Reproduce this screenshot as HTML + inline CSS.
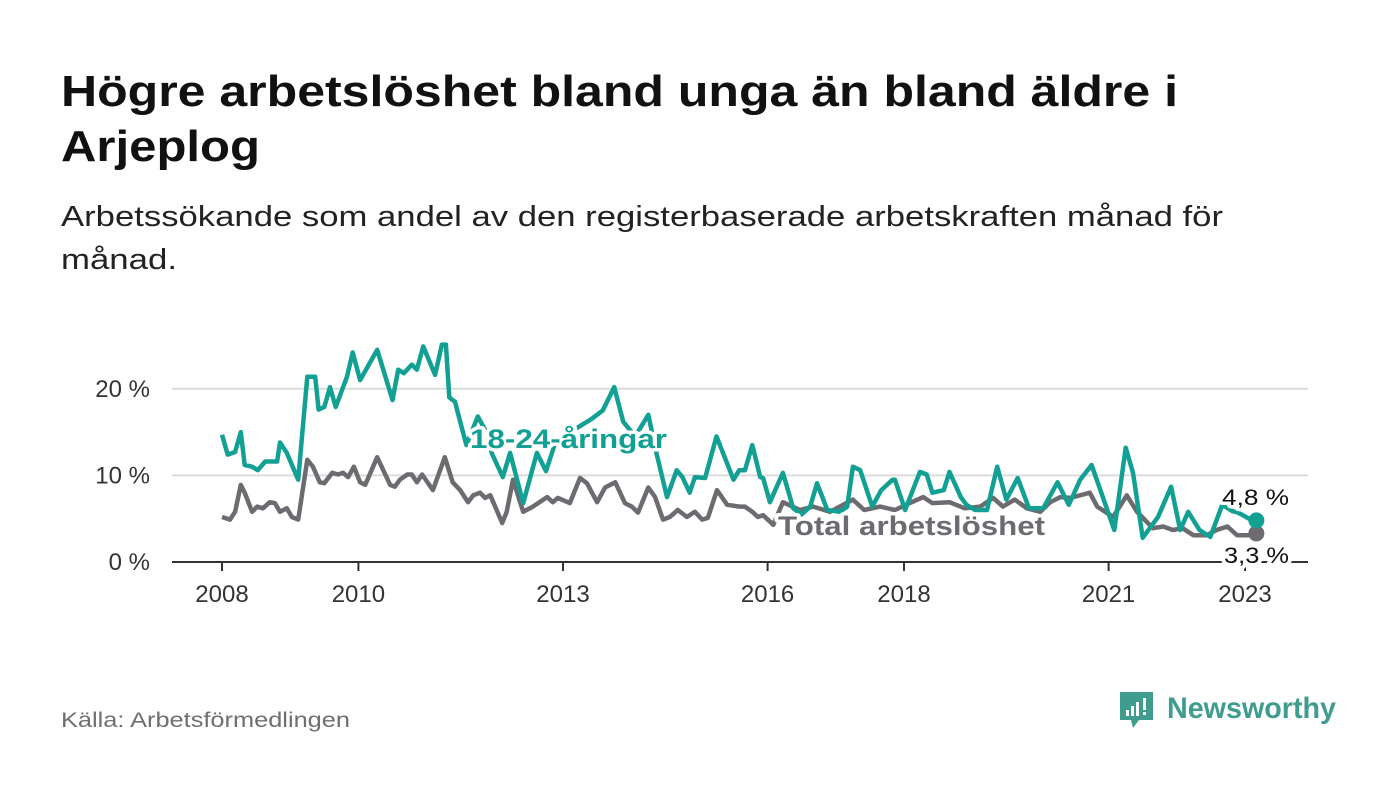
<!DOCTYPE html>
<html><head><meta charset="utf-8"><style>
html,body{margin:0;padding:0;background:#fff;}
svg{display:block;font-family:"Liberation Sans",sans-serif;}
</style></head><body>
<svg id="chart" width="1400" height="794" viewBox="0 0 1400 794" xmlns="http://www.w3.org/2000/svg">
<text x="61" y="106" font-size="44" font-weight="bold" fill="#111" textLength="1117" lengthAdjust="spacingAndGlyphs">Högre arbetslöshet bland unga än bland äldre i</text>
<text x="61" y="161" font-size="44" font-weight="bold" fill="#111" textLength="199" lengthAdjust="spacingAndGlyphs">Arjeplog</text>
<text x="61" y="226" font-size="29" fill="#222" textLength="1162" lengthAdjust="spacingAndGlyphs">Arbetssökande som andel av den registerbaserade arbetskraften månad för</text>
<text x="61" y="269" font-size="29" fill="#222" textLength="116" lengthAdjust="spacingAndGlyphs">månad.</text>
<g id="grid"></g>
<g id="axes"></g>
<g id="series"></g>
<g id="labels"></g>
<text x="61" y="727" font-size="21" fill="#6f6f6f" textLength="289" lengthAdjust="spacingAndGlyphs">Källa: Arbetsförmedlingen</text>
<g>
<path d="M1120 692 h33 v28 h-14 l-6 8 l-2 -8 h-11 z" fill="#3f9c8f"/>
<rect x="1126" y="710" width="3" height="6" fill="#fff"/><rect x="1131" y="706" width="3" height="10" fill="#fff"/><rect x="1136" y="702" width="3" height="14" fill="#fff"/><rect x="1143" y="698" width="3" height="12" fill="#fff"/><rect x="1143" y="712" width="3" height="3" fill="#fff"/>
<text x="1167" y="718" font-size="30" font-weight="bold" fill="#3f9c8f" textLength="169" lengthAdjust="spacingAndGlyphs">Newsworthy</text>
</g>
</svg>
<script>
const yTicks=[0,10,20];
const yTickLabels=["0 %","10 %","20 %"];
const xTickYears=[2008,2010,2013,2016,2018,2021,2023];
// months since Jan 2008
const youthMonths=[0,1,2.3,3.3,4,5.3,6.3,7.6,9.7,10.2,11.4,13.4,15,16.4,17,18,19,20,22,23,24.3,27.3,30,31,32,33.4,34.3,35.4,37.5,38.7,39.4,40,41,41.5,43,45,46.5,47.5,49.4,50.7,53,55.4,57,58.5,60.5,62.5,65,67,69,70.6,72.7,75,76.5,78.3,80,81,82.3,83.2,85,87,90,91,92,93.3,94.7,95.2,96.4,98.7,100.5,102,103.5,104.7,106.5,108.7,110,111,112.3,114.4,116,118,118.4,120.2,122.8,124,125,127,128,130,131,132.5,134.6,136.4,138,140,142,144.5,147,149,151,153,157,159,160.3,162,164.7,167,168.6,170,172,173.9,176,177.7,178.8,181,182];
const youthValues=[14.7,12.4,12.7,15.0,11.2,11.0,10.6,11.6,11.6,13.8,12.6,9.5,21.4,21.4,17.6,17.9,20.2,17.9,21.4,24.2,21.0,24.5,18.7,22.2,21.8,22.8,22.2,24.9,21.6,25.1,25.1,19.0,18.5,17.2,13.5,16.8,15.0,12.5,9.8,12.6,6.8,12.6,10.5,13.5,15.0,15.5,16.5,17.5,20.2,16.2,14.5,17.0,12.4,7.5,10.6,9.8,8.0,9.8,9.7,14.5,9.5,10.6,10.6,13.5,9.8,9.7,6.9,10.3,6.2,5.5,6.4,9.1,6.0,5.8,6.4,11.0,10.6,6.4,8.3,9.5,9.5,6.0,10.4,10.1,8.0,8.3,10.4,7.5,6.6,6.0,6.0,11.0,7.2,9.7,6.2,6.2,9.2,6.6,9.5,11.2,3.7,13.2,10.3,2.8,5.2,8.7,3.7,5.8,3.7,2.9,6.6,5.9,5.7,4.9,4.8];
const totalMonths=[0,1.4,2.3,3.3,4,5.3,6.2,7.2,8.4,9.3,10.2,11.4,12.3,13.4,15,16,17.2,18,19.4,20.4,21.3,22.2,23.2,24.3,25.2,27.3,29.6,30.4,31.3,32.6,33.4,34.3,35.2,37.1,39.2,40.6,41.9,43.3,44.2,45.4,46.3,47.2,49.3,50.1,51.2,53,54.7,57.2,58.2,59.1,61.2,63,64.2,66,67.4,69.2,70.9,72.1,73.2,75,76.2,77.6,78.8,80.2,81.8,83.2,84.5,85.5,87.1,88.9,91.1,92,93.3,94.3,95.2,97,98.7,101.7,104,107,111,113,115.8,118.4,121,123.4,125,128,130.7,133.4,135.7,137.4,139.5,141.6,144,145.7,147.5,149.2,151,152.7,154,156.8,159.2,161,163.8,165.6,167.3,169,170.9,173.3,175,176.9,178.6,181,182];
const totalValues=[5.2,4.9,5.8,8.9,8.0,5.8,6.4,6.2,6.9,6.8,5.8,6.2,5.2,4.9,11.8,11.0,9.2,9.1,10.3,10.1,10.3,9.8,11.0,9.2,8.9,12.1,8.9,8.7,9.5,10.1,10.1,9.2,10.1,8.3,12.1,9.2,8.3,6.9,7.7,8.0,7.4,7.7,4.5,5.8,9.5,5.8,6.4,7.5,6.9,7.4,6.8,9.7,9.1,6.9,8.6,9.2,6.8,6.4,5.7,8.6,7.5,4.9,5.2,6.0,5.2,5.8,4.9,5.1,8.3,6.6,6.4,6.4,5.8,5.2,5.4,4.3,6.9,6.0,6.4,5.8,7.2,6.0,6.4,6.0,6.8,7.5,6.8,6.9,6.2,6.4,7.4,6.4,7.2,6.2,5.8,6.9,7.5,7.4,7.7,8.0,6.4,5.2,7.7,5.8,3.9,4.1,3.7,3.9,3.1,3.1,3.7,4.1,3.1,3.1,3.3];
const NS="http://www.w3.org/2000/svg";
const X0=222,PXM=68.2/12,Y0=562,PXV=8.66,XL=172,XR=1308;
const xScale=m=>X0+m*PXM, yScale=v=>Y0-v*PXV;
function mk(tag,attrs,parent){const e=document.createElementNS(NS,tag);for(const k in attrs)e.setAttribute(k,attrs[k]);parent.appendChild(e);return e;}
const grid=document.getElementById('grid'),axes=document.getElementById('axes'),series=document.getElementById('series'),labels=document.getElementById('labels');
yTicks.forEach((t,i)=>{
 if(t>0){const g=mk('line',{x1:XL,x2:XR,y1:yScale(t),y2:yScale(t),stroke:'#dcdcdc','stroke-width':2},grid);
 
 }
 const tx=mk('text',{x:150,y:yScale(t)+8,'font-size':24,fill:'#333','text-anchor':'end'},axes);
 tx.textContent=yTickLabels[i];
 
 
});
const base=mk('line',{x1:XL,x2:XR,y1:Y0,y2:Y0,stroke:'#333','stroke-width':2},axes);


xTickYears.forEach(yr=>{
 const x=xScale((yr-2008)*12);
 const tk=mk('line',{x1:x,x2:x,y1:Y0,y2:Y0+9,stroke:'#333','stroke-width':2},axes);
 
 
 const tx=mk('text',{x:x,y:602,'font-size':24,fill:'#333','text-anchor':'middle'},axes);
 tx.textContent=yr;
 
 
});
function line(ms,vs,color,name){
 const d=ms.map((m,i)=>(i?'L':'M')+xScale(m).toFixed(1)+' '+yScale(vs[i]).toFixed(1)).join(' ');
 const p=mk('path',{d:d,fill:'none',stroke:color,'stroke-width':4.5,'stroke-linejoin':'round'},series);
 
 
 const n=ms.length-1;
 const c=mk('circle',{cx:xScale(ms[n]),cy:yScale(vs[n]),r:8,fill:color},series);
 
 
}
line(totalMonths,totalValues,'#6d6a70','total-line');
line(youthMonths,youthValues,'#13a094','youth-line');
function lbl(txt,x,y,size,color,weight,name,len){
 const a={x:x,y:y,'font-size':size,fill:color,'font-weight':weight,stroke:'#fff','stroke-width':7,'paint-order':'stroke','stroke-linejoin':'round'};
 if(len){a.textLength=len;a.lengthAdjust='spacingAndGlyphs';}
 const t=mk('text',a,labels);t.textContent=txt;
 
 
}
lbl('18-24-åringar',470,448,27,'#13a094','bold','youth-series-label',197);
lbl('Total arbetslöshet',778,535,27,'#6d6a70','bold','total-series-label',267);
lbl('4,8 %',1222,505,22,'#111','normal','youth-end-label',67);
lbl('3,3 %',1224,563,22,'#111','normal','total-end-label',65);
</script>
</body></html>
